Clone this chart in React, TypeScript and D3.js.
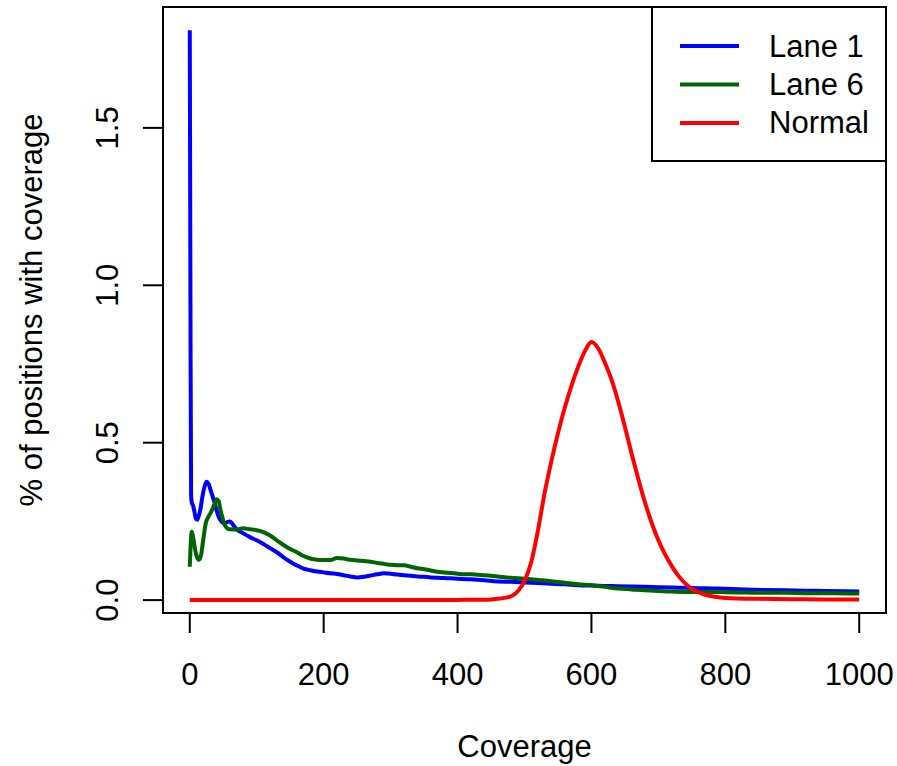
import React from "react";
import * as d3 from "d3";

// [coverage, % of positions]
const lane1: [number, number][] = [
  [0, 1.81], [1, 0.95], [2, 0.33], [3, 0.31], [5, 0.3], [7, 0.28], [9, 0.26], [11, 0.255],
  [13, 0.265], [16, 0.29], [19, 0.33], [22, 0.36], [25, 0.376], [28, 0.37], [31, 0.35],
  [34, 0.33], [37, 0.31], [40, 0.285], [44, 0.26], [48, 0.248], [52, 0.243], [56, 0.248],
  [60, 0.25], [65, 0.238], [70, 0.225], [80, 0.212], [90, 0.2], [100, 0.19], [110, 0.178],
  [120, 0.165], [130, 0.152], [140, 0.136], [150, 0.122], [160, 0.11], [170, 0.1],
  [180, 0.095], [190, 0.091], [200, 0.088], [210, 0.085], [220, 0.083], [230, 0.079],
  [240, 0.075], [250, 0.072], [260, 0.074], [270, 0.078], [280, 0.082], [290, 0.085],
  [300, 0.084], [310, 0.081], [320, 0.079], [330, 0.077], [340, 0.075], [350, 0.074],
  [360, 0.072], [370, 0.071], [380, 0.07], [390, 0.069], [400, 0.068], [420, 0.066],
  [440, 0.063], [460, 0.059], [480, 0.058], [500, 0.056], [520, 0.054], [540, 0.052],
  [560, 0.05], [580, 0.047], [600, 0.046], [620, 0.045], [640, 0.044], [660, 0.043],
  [680, 0.042], [700, 0.041], [720, 0.04], [740, 0.039], [760, 0.038], [780, 0.037],
  [800, 0.036], [830, 0.034], [860, 0.032], [890, 0.031], [920, 0.03], [950, 0.029],
  [980, 0.028], [1000, 0.027],
];

const lane6: [number, number][] = [
  [0, 0.106], [1, 0.16], [3, 0.217], [5, 0.2], [8, 0.16], [11, 0.135], [14, 0.128],
  [17, 0.145], [20, 0.19], [24, 0.245], [28, 0.265], [32, 0.28], [36, 0.3], [40, 0.32],
  [43, 0.315], [46, 0.285], [49, 0.26], [52, 0.24], [56, 0.228], [60, 0.225], [70, 0.224],
  [80, 0.228], [90, 0.225], [100, 0.222], [110, 0.216], [120, 0.205], [130, 0.19],
  [140, 0.175], [150, 0.162], [160, 0.152], [170, 0.14], [180, 0.132], [190, 0.128],
  [200, 0.127], [210, 0.127], [220, 0.134], [230, 0.132], [240, 0.128], [250, 0.126],
  [260, 0.124], [270, 0.122], [280, 0.118], [290, 0.115], [300, 0.112], [310, 0.111],
  [320, 0.111], [330, 0.106], [340, 0.101], [350, 0.098], [360, 0.094], [370, 0.09],
  [380, 0.088], [390, 0.086], [400, 0.084], [410, 0.082], [420, 0.082], [440, 0.079],
  [460, 0.075], [480, 0.071], [500, 0.068], [520, 0.064], [540, 0.06], [560, 0.055],
  [580, 0.05], [600, 0.047], [620, 0.042], [640, 0.037], [660, 0.034], [680, 0.031],
  [700, 0.029], [720, 0.027], [740, 0.026], [760, 0.026], [780, 0.026], [800, 0.025],
  [830, 0.024], [860, 0.023], [890, 0.023], [920, 0.022], [950, 0.022], [980, 0.021],
  [1000, 0.021],
];

const normal: [number, number][] = [
  [0, 0], [100, 0], [200, 0], [300, 0], [400, 0.0005], [420, 0.001], [440, 0.001],
  [450, 0.002], [460, 0.004], [470, 0.007], [480, 0.012], [490, 0.028], [500, 0.06],
  [510, 0.12], [520, 0.22], [530, 0.34], [540, 0.44], [550, 0.53], [560, 0.61],
  [570, 0.68], [580, 0.74], [590, 0.79], [600, 0.82], [610, 0.8], [620, 0.755],
  [630, 0.7], [640, 0.63], [650, 0.55], [660, 0.465], [670, 0.385], [680, 0.31],
  [690, 0.245], [700, 0.19], [710, 0.145], [720, 0.108], [730, 0.077], [740, 0.053],
  [750, 0.036], [760, 0.025], [770, 0.017], [780, 0.012], [790, 0.009], [800, 0.007],
  [850, 0.004], [900, 0.003], [950, 0.002], [1000, 0.002],
];

const xTicks = [0, 200, 400, 600, 800, 1000];
const yTicks = [0, 0.5, 1, 1.5];
const seriesNames = ["Lane 1", "Lane 6", "Normal"];
const seriesColors = ["#0000ff", "#006400", "#ff0000"];

export default function App() {
  const left = 163, right = 886, top = 7, bottom = 613;
  const font = "'Liberation Sans', Arial, Helvetica, sans-serif";
  const fs = 31;

  const x = d3.scaleLinear().domain([-40, 1040]).range([left, right]);
  const y = d3.scaleLinear().domain([-0.041, 1.884]).range([bottom, top]);
  const line = d3.line<[number, number]>()
    .x(d => x(d[0]))
    .y(d => y(d[1]))
    .curve(d3.curveMonotoneX);

  const series = [lane1, lane6, normal];

  return (
    <svg width={897} height={766} style={{ position: "absolute", left: 0, top: 0, background: "#fff" }}
      fontFamily={font}>
      {/* curves */}
      {series.map((s, i) => (
        <path key={i} d={line(s) || ""} fill="none" stroke={seriesColors[i]}
          strokeWidth={4} strokeLinejoin="round" />
      ))}

      {/* box */}
      <rect x={left} y={top} width={right - left} height={bottom - top}
        fill="none" stroke="#000" strokeWidth={2} />

      {/* x axis */}
      {xTicks.map(t => (
        <g key={t}>
          <line x1={x(t)} x2={x(t)} y1={bottom} y2={bottom + 20} stroke="#000" strokeWidth={2} />
          <text x={x(t)} y={685} textAnchor="middle" fontSize={fs}>{t}</text>
        </g>
      ))}
      <text x={(left + right) / 2} y={757} textAnchor="middle" fontSize={fs}>Coverage</text>

      {/* y axis */}
      {yTicks.map(t => (
        <g key={t}>
          <line x1={left} x2={left - 20} y1={y(t)} y2={y(t)} stroke="#000" strokeWidth={2} />
          <text transform={`translate(118,${y(t)}) rotate(-90)`} textAnchor="middle" fontSize={fs}>
            {t.toFixed(1)}
          </text>
        </g>
      ))}
      <text transform={`translate(42,${(top + bottom) / 2}) rotate(-90)`} textAnchor="middle" fontSize={fs}>
        % of positions with coverage
      </text>

      {/* legend */}
      <rect x={652} y={top} width={right - 652} height={161 - top} fill="#fff" stroke="#000" strokeWidth={2} />
      {seriesNames.map((n, i) => (
        <g key={n}>
          <line x1={680} x2={739} y1={46 + i * 38.5} y2={46 + i * 38.5}
            stroke={seriesColors[i]} strokeWidth={4} />
          <text x={769} y={57 + i * 38} fontSize={fs}>{n}</text>
        </g>
      ))}
    </svg>
  );
}
